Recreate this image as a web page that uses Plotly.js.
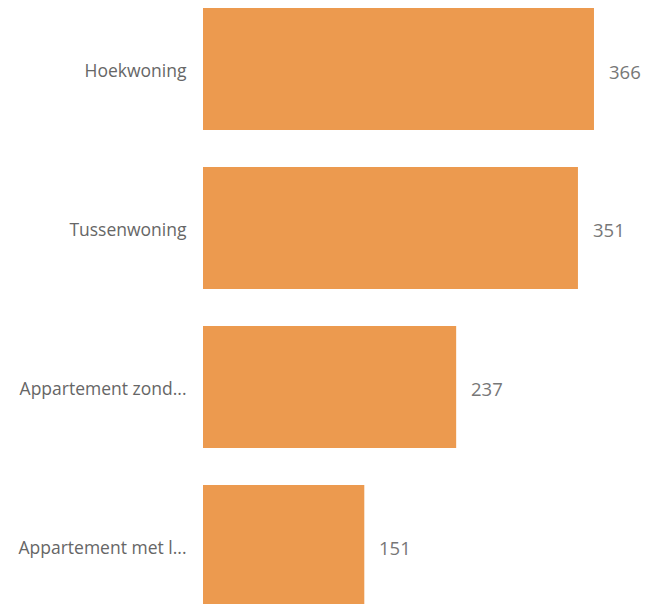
<!DOCTYPE html>
<html>
<head>
<meta charset="utf-8">
<script src="https://cdn.plot.ly/plotly-3.0.1.min.js"></script>
<style>html,body{margin:0;padding:0;background:#fff;}#chart{width:646px;height:604px;}</style>
</head>
<body>
<div id="chart"></div>
<script>
const categories = ["Hoekwoning", "Tussenwoning", "Appartement zond...", "Appartement met l..."];
const values = [366, 351, 237, 151];

const barColor = "#EC9A4F";
const font = "'Segoe UI', 'Open Sans', 'Noto Sans', sans-serif";

const trace = {
  type: "bar",
  orientation: "h",
  x: values,
  y: categories,
  marker: {color: barColor},
  hoverinfo: "none"
};

const annotations = values.map((v, i) => ({
  x: v, y: categories[i], xref: "x", yref: "y",
  text: String(v), showarrow: false, xanchor: "left", xshift: 13, yshift: -2,
  font: {family: font, size: 18.5, color: "#777777"}
}));

const layout = {
  width: 646, height: 604,
  margin: {l: 203, r: 0, t: 0, b: 0},
  paper_bgcolor: "#ffffff", plot_bgcolor: "#ffffff",
  bargap: 0.233,
  showlegend: false,
  xaxis: {range: [0, 414.7], visible: false, fixedrange: true},
  yaxis: {
    type: "category",
    range: [3.365, -0.434],
    showgrid: false, zeroline: false, showline: false,
    ticks: "outside", ticklen: 12, tickcolor: "rgba(0,0,0,0)",
    ticklabelshift: -2,
    tickfont: {family: font, size: 17.5, color: "#666666"}
  },
  annotations: annotations
};

Plotly.newPlot("chart", [trace], layout, {displayModeBar: false, staticPlot: true});
</script>
</body>
</html>
